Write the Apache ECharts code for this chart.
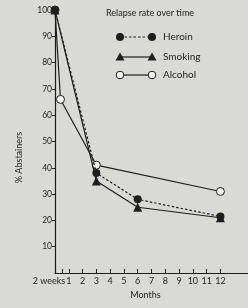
<!DOCTYPE html>
<html><head><meta charset="utf-8">
<script src="https://cdn.jsdelivr.net/npm/echarts@6/dist/echarts.min.js"></script>
<style>html,body{margin:0;padding:0;background:#d9d9d5;}#c{width:248px;height:308px;}</style>
</head><body><div id="c"></div>
<script>
var titleText = 'Relapse rate over time';
var seriesNames = ['Heroin', 'Smoking', 'Alcohol'];
var heroin = [[0, 100], [3, 38], [6, 28], [12, 21.5]];
var smoking = [[0, 100], [3, 35], [6, 25], [12, 21]];
var alcohol = [[0, 100], [0.4, 66], [3, 41], [12, 31]];
var xTickValues = [0.5, 1, 2, 3, 4, 5, 6, 7, 8, 9, 10, 11, 12];
var xTickLabels = ['2 weeks', '1', '2', '3', '4', '5', '6', '7', '8', '9', '10', '11', '12'];
var yTickValues = [10, 20, 30, 40, 50, 60, 70, 80, 90, 100];
var xName = 'Months';
var yName = '% Abstainers';

var ink = '#1e1e1e';
var font = 'Lato';
var chart = echarts.init(document.getElementById('c'), null, {renderer: 'canvas'});

function legendRow(y, name, kind) {
  var els = [];
  var lineStyle = {stroke: ink, lineWidth: 1.2};
  if (kind === 'dash') lineStyle.lineDash = [2.5, 2];
  els.push({type: 'line', shape: {x1: 120, y1: y, x2: 152, y2: y}, style: lineStyle});
  [120, 152].forEach(function (cx) {
    if (kind === 'tri') {
      els.push({type: 'polygon', shape: {points: [[cx, y - 4.5], [cx - 4.5, y + 3.5], [cx + 4.5, y + 3.5]]}, style: {fill: ink}});
    } else if (kind === 'dash') {
      els.push({type: 'circle', shape: {cx: cx, cy: y, r: 4}, style: {fill: ink}});
    } else {
      els.push({type: 'circle', shape: {cx: cx, cy: y, r: 3.8}, style: {fill: '#f4f4f2', stroke: ink, lineWidth: 1}});
    }
  });
  els.push({type: 'text', x: 163, y: y, style: {text: name, fill: ink, font: '10px ' + font, verticalAlign: 'middle'}});
  return els;
}

var option = {
  backgroundColor: '#d9d9d5',
  animation: false,
  title: {text: titleText, left: 145, textAlign: 'center', top: 4,
    textStyle: {fontFamily: font, fontSize: 9, fontWeight: 'normal', color: ink}},
  grid: {left: 55, right: 0, top: 10, bottom: 35},
  xAxis: {
    type: 'value', min: 0, max: 14,
    name: xName, nameLocation: 'middle', nameGap: 18,
    nameTextStyle: {fontFamily: font, fontSize: 9, color: ink, padding: [0, 12, 0, 0]},
    axisLine: {lineStyle: {color: ink, width: 1.2}},
    splitLine: {show: false},
    axisTick: {inside: true, length: 4, lineStyle: {color: ink}, customValues: xTickValues},
    axisLabel: {
      fontFamily: font, fontSize: 9, color: ink, margin: 4,
      customValues: xTickValues,
      formatter: function (v) {
        var i = xTickValues.indexOf(v);
        var t = i >= 0 ? xTickLabels[i] : '';
        return v === 0.5 ? '{w|' + t + '}' : t;
      },
      rich: {w: {fontFamily: font, fontSize: 9, color: ink, padding: [0, 26, 0, 0]}}
    }
  },
  yAxis: {
    type: 'value', min: 0, max: 100,
    name: yName, nameLocation: 'middle', nameGap: 31, nameRotate: 90,
    nameTextStyle: {fontFamily: font, fontSize: 9, color: ink, padding: [0, 32, 0, 0]},
    axisLine: {show: true, lineStyle: {color: ink, width: 1.2}},
    splitLine: {show: false},
    axisTick: {show: true, length: 3, lineStyle: {color: ink}, customValues: yTickValues},
    axisLabel: {fontFamily: font, fontSize: 8.5, color: ink, margin: 3, customValues: yTickValues}
  },
  series: [
    {name: seriesNames[2], type: 'line', data: alcohol, symbol: 'circle', symbolSize: 8,
      lineStyle: {color: ink, width: 1.2}, itemStyle: {color: '#f4f4f2', borderColor: ink, borderWidth: 1}, z: 2},
    {name: seriesNames[1], type: 'line', data: smoking, symbol: 'triangle', symbolSize: 9,
      lineStyle: {color: ink, width: 1.2}, itemStyle: {color: ink}, z: 3},
    {name: seriesNames[0], type: 'line', data: heroin, symbol: 'circle', symbolSize: 8,
      lineStyle: {color: ink, width: 1.2, type: [2.5, 2]}, itemStyle: {color: ink}, z: 4}
  ],
  graphic: [].concat(legendRow(37, seriesNames[0], 'dash'), legendRow(57, seriesNames[1], 'tri'), legendRow(75, seriesNames[2], 'open'))
};
chart.setOption(option);
</script></body></html>
